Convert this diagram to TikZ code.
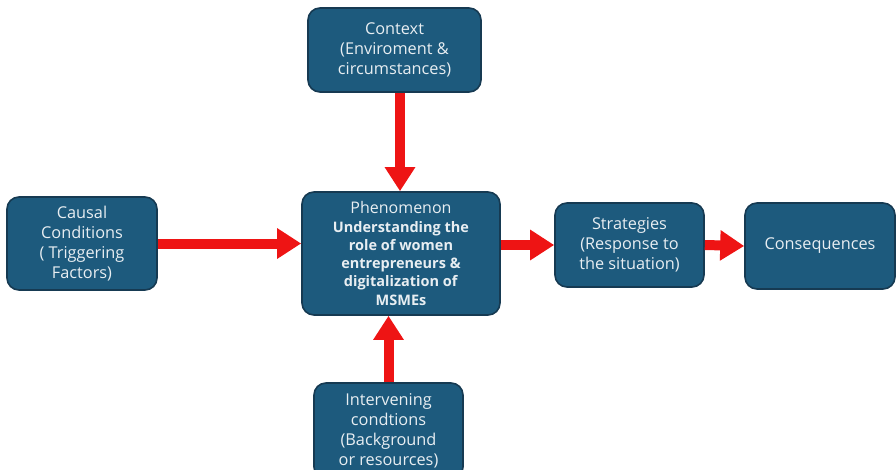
\documentclass[tikz,border=0pt]{standalone}
\usepackage{fontspec}
\setmainfont{Open Sans}
\usetikzlibrary{arrows.meta}

\definecolor{boxfill}{RGB}{29,90,125}
\definecolor{boxline}{RGB}{22,58,82}
\definecolor{boxtext}{RGB}{232,238,242}
\definecolor{arrowred}{RGB}{238,20,20}

\begin{document}
\begin{tikzpicture}[x=1pt, y=-1pt,
	every node/.style={rectangle, rounded corners=12pt, draw=boxline, line width=1.6pt, fill=boxfill, text=boxtext, align=center, inner sep=0pt, font=\fontsize{16.3}{20}\selectfont},
	every edge/.style={draw=arrowred, line width=10pt, -{Triangle[width=29pt,length=24pt]}}]
	\useasboundingbox (0,0) rectangle (896,469);

	\node[minimum width=173pt, minimum height=84pt] (ctx) at (394.5,50){Context\\(Enviroment \&\\circumstances)};
	\node[minimum width=198pt, minimum height=123pt, font=\fontsize{14.5}{18.3}\selectfont] (phen) at (401,253.5){{\fontsize{16}{18.3}\selectfont Phenomenon}\\\textbf{Understanding the}\\\textbf{role of women}\\\textbf{entrepreneurs \&}\\\textbf{digitalization of}\\\textbf{MSMEs}};
	\node[minimum width=150pt, minimum height=93pt] (cause) at (82,243.5){Causal\\Conditions\\( Triggering\\Factors)};
	\node[minimum width=149pt, minimum height=84pt] (strat) at (629.5,245){Strategies\\(Response to\\the situation)};
	\node[minimum width=150pt, minimum height=86pt] (cons) at (820,246){Consequences};
	\node[minimum width=149pt, minimum height=96pt] (inter) at (388.5,431){Intervening\\condtions\\(Background\\or resources)};

	\path ([xshift=5.5pt]ctx.south) edge ([xshift=5.5pt]ctx.south |- phen.north);
	\path (cause.east) edge (cause.east -| phen.west);
	\path (phen.east |- strat.west) edge (strat.west);
	\path (strat.east) edge (cons.west);
	\path (inter.north) edge (inter.north |- phen.south);
\end{tikzpicture}
\end{document}
